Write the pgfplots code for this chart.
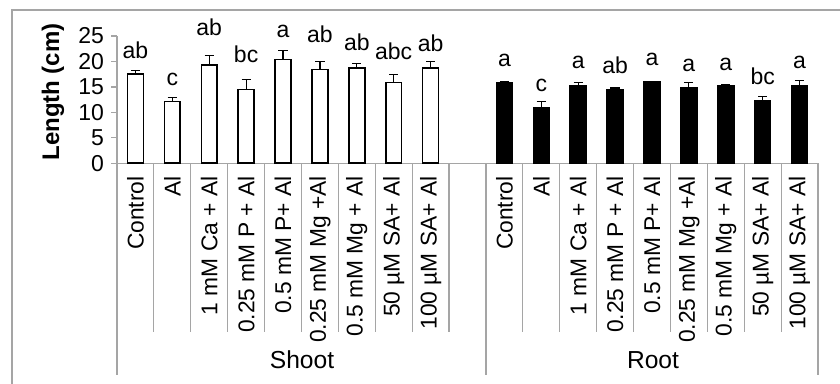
\documentclass[border=0pt]{standalone}
\usepackage{fontspec}
\setmainfont{Liberation Sans}
\usepackage{pgfplots}
\pgfplotsset{compat=1.18}
\definecolor{axgray}{RGB}{165,165,165}
\begin{document}
\begin{tikzpicture}[x=1pt,y=1pt]
\useasboundingbox (0,0) rectangle (420,192);
\draw[axgray, line width=0.6pt] (6,0) -- (6,187) -- (420,187);
\begin{axis}[
  at={(58.5pt,110.35pt)}, anchor=south west,
  scale only axis, width=350.5pt, height=63.65pt,
  xmin=-0.5, xmax=18.5, ymin=0, ymax=25,
  axis x line*=bottom, axis y line*=left,
  axis line style={axgray, line width=0.6pt},
  ytick={0,5,...,25}, tick align=outside, major tick length=3pt,
  y tick style={axgray, line width=0.6pt},
  xtick={0,1,2,3,4,5,6,7,8,10,11,12,13,14,15,16,17,18},
  xticklabels={Control,Al,1 mM Ca + Al,0.25 mM P + Al,0.5 mM P+ Al,0.25 mM Mg +Al,0.5 mM Mg + Al,50 µM SA+ Al,100 µM SA+ Al,
               Control,Al,1 mM Ca + Al,0.25 mM P + Al,0.5 mM P+ Al,0.25 mM Mg +Al,0.5 mM Mg + Al,50 µM SA+ Al,100 µM SA+ Al},
  x tick style={draw=none},
  xticklabel style={rotate=90, anchor=east, font=\fontsize{11.4}{13}\selectfont},
  yticklabel style={font=\fontsize{11.5}{13}\selectfont},
  /pgf/number format/assume math mode=true,
  clip=false,
  bar width=0.43,
]
\addplot[ybar, bar shift=0pt, fill=white, draw=black, line width=0.8pt,
  error bars/.cd, y dir=plus, y explicit,
  error bar style={black, line width=0.6pt},
  error mark options={black, rotate=90, mark size=2.3pt, line width=0.6pt}]
  table[x=x, y=y, y error=e] {
x y e
0 17.5 0.7
1 12.1 0.8
2 19.25 1.9
3 14.5 1.9
4 20.4 1.7
5 18.4 1.6
6 18.7 0.9
7 15.9 1.5
8 18.7 1.3
};
\addplot[ybar, bar shift=0pt, fill=black, draw=black, line width=0.8pt,
  error bars/.cd, y dir=plus, y explicit,
  error bar style={black, line width=0.6pt},
  error mark options={black, rotate=90, mark size=2.3pt, line width=0.6pt}]
  table[x=x, y=y, y error=e] {
x y e
10 15.85 0.2
11 10.8 1.4
12 15.3 0.5
13 14.4 0.4
14 16.0 0.1
15 14.9 1.0
16 15.2 0.3
17 12.2 0.85
18 15.3 1.0
};
\begin{scope}[every node/.style={anchor=base, font=\fontsize{11.5}{13}\selectfont, inner sep=0pt}]
\node at (axis cs:0,20.6) {ab};
\node at (axis cs:1,15.2) {c};
\node at (axis cs:2,25.0) {ab};
\node at (axis cs:3,19.8) {bc};
\node at (axis cs:4,24.7) {a};
\node at (axis cs:5,23.7) {ab};
\node at (axis cs:6,22.1) {ab};
\node at (axis cs:7,20.4) {abc};
\node at (axis cs:8,21.9) {ab};
\node at (axis cs:10,19.0) {a};
\node at (axis cs:11,14.1) {c};
\node at (axis cs:12,18.7) {a};
\node at (axis cs:13,17.7) {ab};
\node at (axis cs:14,19.2) {a};
\node at (axis cs:15,18.1) {a};
\node at (axis cs:16,18.3) {a};
\node at (axis cs:17,15.4) {bc};
\node at (axis cs:18,18.7) {a};
\end{scope}
\end{axis}
\foreach \k in {1,...,9,11,12,...,18}
  \draw[axgray, line width=0.6pt] ({58.5+18.447*\k},110.35) -- ++(0,-84.35);
\foreach \k in {0,10,19}
  \draw[axgray, line width=0.6pt] ({58.5+18.447*\k},110.35) -- ++(0,-105.85);
\node[font=\fontsize{12.3}{14}\selectfont] at (151,12) {Shoot};
\node[font=\fontsize{12.3}{14}\selectfont] at (326.5,12) {Root};
\node[rotate=90, font=\bfseries\fontsize{12}{14}\selectfont] at (26.5,146) {Length (cm)};
\end{tikzpicture}
\end{document}
